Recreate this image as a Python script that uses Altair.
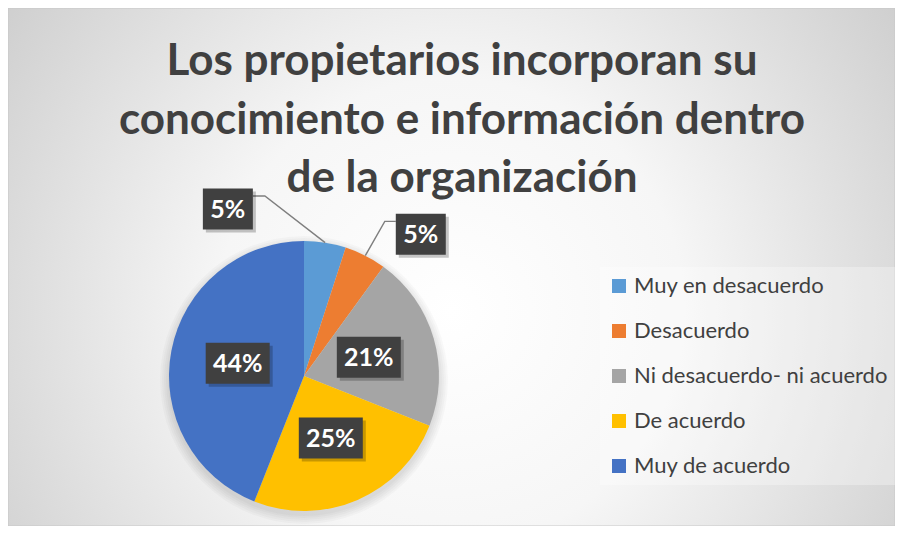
import math
import altair as alt
import pandas as pd

# ---------------- data ----------------
categories = ["Muy en desacuerdo", "Desacuerdo", "Ni desacuerdo- ni acuerdo", "De acuerdo", "Muy de acuerdo"]
values = [5, 5, 21, 25, 44]
colors = ["#5B9BD5", "#ED7D31", "#A5A5A5", "#FFC000", "#4472C4"]
title_lines = ["Los propietarios incorporan su", "conocimiento e información dentro", "de la organización"]

# ---------------- layout / style ----------------
W, H = 887, 518
CX, CY, R = 296, 368, 135
INNER_R = 0.5          # inner labels at half radius
OUTER_R = 1.36         # outside labels (small slices)
OUTER_SEP = 64         # degrees between spread-out outside labels
OUTER_SHIFT = -10.5    # degrees
SMALL = 0.10
BOX_H = 41
TITLE_X, TITLE_Y0, TITLE_LH = 454, 67, 58.5
FONT = "Lato"
DARK = "#404040"

total = sum(values)
rows = []
cum = 0.0
for i, (c, v) in enumerate(zip(categories, values)):
    frac = v / total
    start = cum / total * 360
    cum += v
    end = cum / total * 360
    rows.append(dict(cat=c, value=v, ord=i, pct=frac, mid=(start + end) / 2))
df = pd.DataFrame(rows)

small_idx = [r["ord"] for r in rows if r["pct"] < SMALL]
mean_mid = sum(rows[i]["mid"] for i in small_idx) / max(len(small_idx), 1)
lab_rows, line_rows = [], []
for r in rows:
    label = f"{round(r['pct'] * 100)}%"
    bw = 14 * len(label) + 22
    if r["ord"] in small_idx:
        k = small_idx.index(r["ord"])
        a = mean_mid + OUTER_SHIFT + (k - (len(small_idx) - 1) / 2) * OUTER_SEP
        rr = OUTER_R * R
    else:
        a = r["mid"]
        rr = INNER_R * R
    lx = CX + rr * math.sin(math.radians(a))
    ly = CY - rr * math.cos(math.radians(a))
    lab_rows.append(dict(cat=r["cat"], pct=r["pct"], lx=lx, ly=ly,
                         bx=lx - bw / 2, bx2=lx + bw / 2, by=ly - BOX_H / 2, by2=ly + BOX_H / 2))
    if r["ord"] in small_idx:
        ex = CX + R * math.sin(math.radians(r["mid"]))
        ey = CY - R * math.cos(math.radians(r["mid"]))
        if lx < ex:
            bxe = lx + bw / 2
            elx = bxe + 12
        else:
            bxe = lx - bw / 2
            elx = bxe - 11
        yy = ly - 13
        for j, (px, py) in enumerate([(ex, ey), (elx, yy), (bxe, yy)]):
            line_rows.append(dict(cat=r["cat"], o=j, px=px, py=py))
labels = pd.DataFrame(lab_rows)
lines = pd.DataFrame(line_rows)
titles = pd.DataFrame({"t": title_lines, "i": range(len(title_lines))})
titles["ty"] = TITLE_Y0 + titles["i"] * TITLE_LH
titles["tx"] = TITLE_X

xs = alt.Scale(domain=[0, W], range=[0, W], nice=False, zero=False)
ys = alt.Scale(domain=[0, H], range=[0, H], nice=False, zero=False)

bg = alt.Chart(pd.DataFrame({"a": [0]})).mark_rect(
    color=alt.RadialGradient(
        gradient="radial",
        stops=[alt.GradientStop(color="#ffffff", offset=0),
               alt.GradientStop(color="#f6f6f6", offset=0.35),
               alt.GradientStop(color="#bfbfbf", offset=1)],
        x1=0.5, y1=0.55, r1=0, x2=0.5, y2=0.55, r2=0.75),
    stroke="#c8c8c8", strokeWidth=1,
).encode(x=alt.value(0), x2=alt.value(W), y=alt.value(0), y2=alt.value(H))

shadows = [
    alt.Chart(pd.DataFrame({"a": [0]})).mark_arc(
        theta=0, theta2=6.2832, outerRadius=R + d, color="black", opacity=0.025
    ).encode(x=alt.value(CX), y=alt.value(CY + 4))
    for d in (1, 3, 5, 7, 9)
]

pie = alt.Chart(df).mark_arc(outerRadius=R).encode(
    theta=alt.Theta("value:Q", stack=True),
    order=alt.Order("ord:Q"),
    color=alt.Color("cat:N",
                    scale=alt.Scale(domain=categories, range=colors),
                    legend=alt.Legend(orient="none", legendX=592, legendY=259, title=None,
                                      symbolType="square", symbolSize=196, symbolStrokeWidth=0,
                                      symbolOpacity=1,
                                      labelFont=FONT, labelFontSize=22, labelColor=DARK,
                                      labelOffset=4, rowPadding=23, padding=8, labelLimit=400,
                                      fillColor="rgba(255,255,255,0.3)")),
    x=alt.value(CX), y=alt.value(CY),
)

leader = alt.Chart(lines).mark_line(color="#7f7f7f", strokeWidth=1.4).encode(
    x=alt.X("px:Q", scale=xs, axis=None),
    y=alt.Y("py:Q", scale=ys, axis=None),
    detail="cat:N", order="o:Q",
)

box_shadow = alt.Chart(labels).mark_rect(
    color="black", opacity=0.22, xOffset=3, x2Offset=3, yOffset=3, y2Offset=3
).encode(
    x=alt.X("bx:Q", scale=xs, axis=None), x2="bx2:Q",
    y=alt.Y("by:Q", scale=ys, axis=None), y2="by2:Q",
)
box = alt.Chart(labels).mark_rect(color=DARK).encode(
    x=alt.X("bx:Q", scale=xs, axis=None), x2="bx2:Q",
    y=alt.Y("by:Q", scale=ys, axis=None), y2="by2:Q",
)
text = alt.Chart(labels).mark_text(
    font=FONT, fontSize=25, fontWeight="bold", color="white", align="center", baseline="middle", dy=1
).encode(
    x=alt.X("lx:Q", scale=xs, axis=None),
    y=alt.Y("ly:Q", scale=ys, axis=None),
    text=alt.Text("pct:Q", format=".0%"),
)

title = alt.Chart(titles).mark_text(
    font=FONT, fontSize=44, fontWeight="bold", color=DARK, align="center", baseline="alphabetic"
).encode(
    x=alt.X("tx:Q", scale=xs, axis=None),
    y=alt.Y("ty:Q", scale=ys, axis=None),
    text="t:N",
)

chart = alt.layer(bg, *shadows, pie, leader, box_shadow, box, text, title).properties(
    width=W, height=H, autosize=alt.AutoSizeParams(type="none"), padding=0
).configure_view(stroke=None).configure(background="white")

chart.save("out.html", embed_options={"renderer": "svg", "actions": False})
